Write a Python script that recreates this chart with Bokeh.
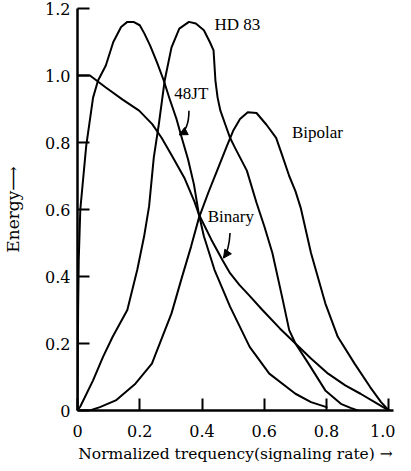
from bokeh.plotting import figure
from bokeh.models import Range1d, FixedTicker, Arrow, NormalHead, ColumnDataSource, PrintfTickFormatter
from bokeh.core.properties import value
from bokeh.embed import file_html
from bokeh.resources import INLINE

# ---- data ----
binary_x = [0, 0.04, 0.091, 0.145, 0.198, 0.24, 0.27, 0.302, 0.343, 0.375, 0.39, 0.43, 0.465, 0.49,
            0.52, 0.55, 0.594, 0.65, 0.70, 0.75, 0.805, 0.86, 0.909, 0.96, 1.0]
binary_y = [1.0, 1.0, 0.964, 0.928, 0.895, 0.855, 0.814, 0.763, 0.695, 0.625, 0.585, 0.51, 0.45, 0.41,
            0.375, 0.345, 0.30, 0.245, 0.20, 0.155, 0.11, 0.075, 0.05, 0.022, 0.0]

jt48_x = [0, 0.002, 0.004, 0.009, 0.028, 0.05, 0.066, 0.091, 0.115, 0.14, 0.16, 0.18, 0.2, 0.215,
          0.233, 0.255, 0.277, 0.296, 0.318, 0.333, 0.355, 0.374, 0.39, 0.406, 0.44, 0.49, 0.553,
          0.616, 0.70, 0.75, 0.8]
jt48_y = [0, 0.3, 0.45, 0.6, 0.79, 0.934, 0.985, 1.03, 1.1, 1.145, 1.16, 1.16, 1.15, 1.125,
          1.09, 1.04, 0.985, 0.93, 0.87, 0.82, 0.75, 0.675, 0.585, 0.52, 0.42, 0.31, 0.19,
          0.11, 0.05, 0.025, 0.01]

hd83_x = [0, 0.009, 0.05, 0.082, 0.113, 0.16, 0.192, 0.214, 0.23, 0.245, 0.261, 0.28, 0.302, 0.327,
          0.358, 0.38, 0.406, 0.425, 0.437, 0.443, 0.45, 0.459, 0.475, 0.49, 0.506, 0.544, 0.575,
          0.6, 0.626, 0.657, 0.68, 0.70, 0.742, 0.796, 0.846, 0.877, 0.9]
hd83_y = [0, 0.012, 0.09, 0.16, 0.22, 0.30, 0.42, 0.52, 0.61, 0.755, 0.853, 0.985, 1.084, 1.14,
          1.16, 1.155, 1.135, 1.1, 1.075, 0.985, 0.934, 0.895, 0.853, 0.814, 0.784, 0.716, 0.62,
          0.55, 0.47, 0.34, 0.24, 0.20, 0.14, 0.06, 0.02, 0.008, 0]

bipolar_x = [0, 0.04, 0.072, 0.123, 0.186, 0.239, 0.302, 0.333, 0.365, 0.39, 0.42, 0.45, 0.48, 0.5,
             0.522, 0.547, 0.575, 0.607, 0.638, 0.657, 0.68, 0.70, 0.717, 0.75, 0.796, 0.836, 0.89,
             0.94, 0.975, 1.0]
bipolar_y = [0, 0.0, 0.01, 0.03, 0.08, 0.14, 0.29, 0.39, 0.49, 0.575, 0.65, 0.72, 0.79, 0.835,
             0.87, 0.89, 0.888, 0.853, 0.814, 0.763, 0.70, 0.655, 0.605, 0.47, 0.32, 0.22, 0.14,
             0.07, 0.025, 0]

x_ticks = [0, 0.2, 0.4, 0.6, 0.8, 1.0]
y_ticks = [0, 0.2, 0.4, 0.6, 0.8, 1.0, 1.2]

label_text = ["HD 83", "48JT", "Binary", "Bipolar"]
label_x = [0.44, 0.311, 0.418, 0.689]
label_y = [1.151, 0.945, 0.579, 0.829]

# curved pointer arrows: start, control, end
arrow_x0 = [0.358, 0.49]
arrow_y0 = [0.895, 0.53]
arrow_cx = [0.358, 0.487]
arrow_cy = [0.838, 0.479]
arrow_x1 = [0.327, 0.469]
arrow_y1 = [0.823, 0.455]

x_label = "Normalized trequency(signaling rate) \u2192"
y_label = "Energy\u27f6"

# ---- figure ----
p = figure(width=395, height=468, x_range=Range1d(0, 1.015), y_range=Range1d(0, 1.2),
           output_backend="svg", toolbar_location=None,
           min_border_left=70, min_border_right=2, min_border_top=8, min_border_bottom=58)
p.outline_line_color = None
p.grid.visible = False
p.background_fill_color = "white"
p.border_fill_color = "white"

for xs, ys in [(binary_x, binary_y), (jt48_x, jt48_y), (hd83_x, hd83_y), (bipolar_x, bipolar_y)]:
    p.line(xs, ys, line_color="black", line_width=2, line_join="round", line_cap="round")

# labels
src = ColumnDataSource(dict(x=label_x, y=label_y, t=label_text))
p.text(x="x", y="y", text="t", source=src, text_font=value("Liberation Serif"),
       text_font_size="17px", text_baseline="middle", text_align="left", text_color="black")

# arrows: curved shaft + filled head
p.quadratic(x0=arrow_x0, y0=arrow_y0, x1=arrow_x1, y1=arrow_y1, cx=arrow_cx, cy=arrow_cy,
            line_color="black", line_width=1.6)
for i in range(len(arrow_x1)):
    p.add_layout(Arrow(end=NormalHead(size=8, fill_color="black", line_color="black"),
                       x_start=arrow_cx[i], y_start=arrow_cy[i],
                       x_end=arrow_x1[i], y_end=arrow_y1[i], line_alpha=0))

# axes
for ax in (p.xaxis[0], p.yaxis[0]):
    ax.axis_line_width = 2.5
    ax.axis_line_color = "black"
    ax.major_tick_line_width = 2
    ax.major_tick_line_color = "black"
    ax.major_tick_in = 12
    ax.major_tick_out = 0
    ax.minor_tick_line_color = None
    ax.major_label_text_font = "DejaVu Serif"
    ax.major_label_text_font_size = "16px"
    ax.major_label_text_color = "black"
    ax.axis_label_text_font = "DejaVu Serif"
    ax.axis_label_text_font_style = "normal"
    ax.axis_label_text_color = "black"
    ax.formatter = PrintfTickFormatter(format="%.1f")
    ax.major_label_overrides = {0: "0"}

p.xaxis[0].ticker = FixedTicker(ticks=x_ticks)
p.yaxis[0].ticker = FixedTicker(ticks=y_ticks)
p.xaxis[0].axis_label = x_label
p.yaxis[0].axis_label = y_label
p.xaxis[0].axis_label_text_font_size = "15.5px"
p.yaxis[0].axis_label_text_font_size = "17px"
p.xaxis[0].major_label_standoff = 14
p.xaxis[0].axis_label_standoff = 5
p.yaxis[0].major_label_standoff = 7
p.yaxis[0].axis_label_standoff = 19

open("out.html", "w").write(file_html(p, INLINE))
